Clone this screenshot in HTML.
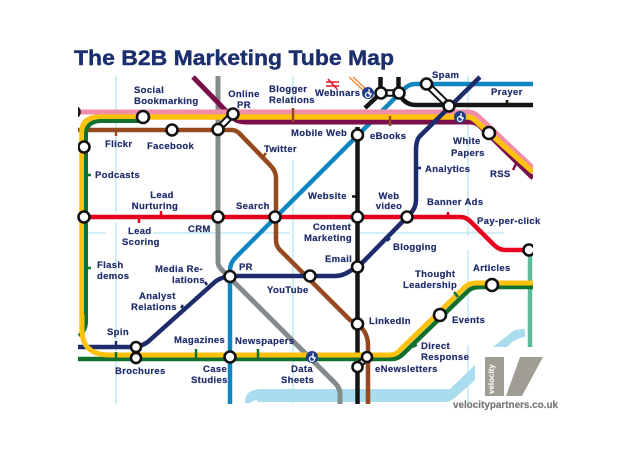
<!DOCTYPE html>
<html><head><meta charset="utf-8"><style>
html,body{margin:0;padding:0;background:#fff}
svg{display:block}
text{font-family:"Liberation Sans",sans-serif;font-weight:bold;fill:#1f2c6b;stroke:#1f2c6b;stroke-width:.18px;font-size:9.5px;letter-spacing:.35px}
.c{text-anchor:middle}
.l{fill:none;stroke-linejoin:round}
.s{fill:#fff;stroke:#111;stroke-width:2.6}
</style></head><body>
<svg width="640" height="452" viewBox="0 0 640 452" xmlns="http://www.w3.org/2000/svg">
<rect width="640" height="452" fill="#fff"/>
<!-- river and grid -->
<path d="M245 403V402Q245 389 262 389H450L475 365V380L457 396Q451 402 445 402H258Q258 398 250 403Z" fill="#a9dcec"/>
<path d="M493 347L513 331Q517 329 525 329V337Q517 338 511 343L507 347Z" fill="#a9dcec"/>
<g stroke="#a6dfee" stroke-width="1" fill="none">
<path d="M116 76V212M116 222V404M293 76V100M293 160V404M468 76V236M468 250V320M468 345V404"/>
<path d="M85 233H106M153 233H290M355 233H504"/>
</g>
<!-- orange -->
<path d="M349 77L365 92M353 77L368 91" class="l" stroke="#ee8a3c" stroke-width="1.4"/>
<!-- rail symbol -->
<path d="M326 82H339M326 86H339M328 79L337 89" class="l" stroke="#e21a2a" stroke-width="1.6"/>
<!-- lines -->
<path d="M218 76V262Q218 266 222 270L335 383Q340 388 340 394V404" class="l" stroke="#838b8d" stroke-width="5"/>
<path d="M530 250V347" class="l" stroke="#5dbb9b" stroke-width="4.5"/>
<path d="M533 84H415Q409 84 404 89L236 257Q230 263 230 270V404" class="l" stroke="#0f86bf" stroke-width="4.5"/>
<path d="M78 130H232Q236 130 240 134L270 165Q276 171 276 178V240Q276 246 280 250L350 320Q368 328 368 345V404" class="l" stroke="#96491f" stroke-width="4.5"/>
<path d="M357.5 127V404" class="l" stroke="#151515" stroke-width="4.5"/>
<path d="M380.500 77V93M398.500 77V93M381 93L365 108M399 93Q404 105 416 105H533" class="l" stroke="#151515" stroke-width="4.5"/>
<path d="M193 77L232 117Q237 122 245 122H470Q476 122 480 126L533 178" class="l" stroke="#7a0f4b" stroke-width="5"/>
<path d="M78 112H468Q474 112 479 117L533 168" class="l" stroke="#f28da8" stroke-width="5"/>
<path d="M82 335V132Q82 117 100 117H468Q472 117 476 121L533 172" class="l" stroke="#fdc20f" stroke-width="5.500"/>
<path d="M86 322Q86 330 79 336M86 322V134Q86 122 100 121L143 121" class="l" stroke="#12702f" stroke-width="4"/>
<path d="M480 77L420 136Q416 140 416 150V200Q416 208 410 214L365 260Q358 267 350 271Q343 276 335 276H232Q224 276 216 281L150 340Q143 347 130 347H78" class="l" stroke="#1f2c6b" stroke-width="4.500"/>
<path d="M78 217H460Q466 217 470 221L494 245Q499 250 506 250H530" class="l" stroke="#e8001f" stroke-width="4.500"/>
<path d="M78 359H392Q398 359 403 354L468 291Q472 287 480 287H533" class="l" stroke="#12702f" stroke-width="4.500"/>
<path d="M82 315V330Q82 355 110 355H390Q396 355 400 350L465 287Q469 283 477 283H533" class="l" stroke="#fdc20f" stroke-width="5"/>
<!-- ticks -->
<g stroke-width="2.500" fill="none">
<path d="M116 130V136" stroke="#96491f"/>
<path d="M139 217V223M161 217V211" stroke="#e8001f"/>
<path d="M448 217V212M481 229L478 232" stroke="#e8001f"/>
<path d="M87 175H91M87 268H91" stroke="#12702f"/>
<path d="M196 349V360M258 349V360M116 352V360" stroke="#12702f"/>
<path d="M116 341V349" stroke="#1f2c6b"/>
<path d="M416 168H421" stroke="#1f2c6b"/>
<path d="M352 196.500H357" stroke="#151515"/>
<path d="M390 238L387 241M205 282L207 285M183 305L181 308" stroke="#1f2c6b"/>
<path d="M293 108V122M390 116V126" stroke="#96491f"/>
<path d="M266 153L263 157" stroke="#96491f"/>
<path d="M507 105V100" stroke="#151515"/>
<path d="M513 170L516 164" stroke="#7a0f4b"/>
<path d="M454 292L458 297M412 347L417 345" stroke="#12702f"/>
</g>
<!-- connectors -->
<path d="M218 129L233 114M381 93H399M426.500 84L449 106M136 347V358M367 357L357 367" stroke="#111" stroke-width="7.500" fill="none"/>
<path d="M218 129L233 114M381 93H399M426.500 84L449 106M136 347V358M367 357L357 367" stroke="#fff" stroke-width="3.500" fill="none"/>
<!-- stations -->
<g class="s">
<circle cx="74" cy="112" r="5.500"/>
<circle cx="143" cy="117" r="6"/><circle cx="233" cy="114" r="5.500"/><circle cx="218" cy="129.500" r="5.500"/><circle cx="172" cy="130" r="5.500"/>
<circle cx="84" cy="147" r="5.500"/><circle cx="84" cy="217" r="5.500"/><circle cx="218" cy="217" r="5.500"/><circle cx="275" cy="217" r="5.500"/>
<circle cx="357.500" cy="135" r="5.500"/><circle cx="357.500" cy="217" r="5.500"/><circle cx="407" cy="217" r="5.500"/>
<circle cx="381" cy="93" r="5.500"/><circle cx="399" cy="93" r="5.500"/><circle cx="426.500" cy="84" r="5.500"/><circle cx="449" cy="106" r="5.500"/>
<circle cx="489" cy="133" r="6"/><circle cx="230" cy="276.500" r="5.500"/><circle cx="310" cy="276" r="5.500"/><circle cx="357.500" cy="267" r="5.500"/>
<circle cx="357.500" cy="324" r="5.500"/><circle cx="136" cy="347" r="5"/><circle cx="136" cy="358" r="5"/><circle cx="230" cy="357" r="5.500"/>
<circle cx="367" cy="357" r="5"/><circle cx="357.500" cy="367" r="5"/><circle cx="440" cy="315" r="6"/><circle cx="492" cy="285" r="6"/><circle cx="529" cy="250" r="5.500"/>
</g>
<rect x="60" y="100" width="18" height="60" fill="#fff"/>
<!-- wheelchair -->
<g fill="#1f3f8a"><circle cx="368" cy="93" r="6"/><circle cx="460" cy="117" r="6"/><circle cx="312" cy="357" r="6"/></g>
<g fill="none" stroke="#fff" stroke-width="1.200"><circle cx="368" cy="95" r="2.500"/><circle cx="460" cy="119" r="2.500"/><circle cx="312" cy="359" r="2.500"/><path d="M369 89V94H372M461 113V118H464M313 353V358H316"/></g>
<!-- white masks at edges -->
<rect x="533" y="70" width="10" height="225" fill="#fff"/>
<!-- logo -->
<rect x="485" y="357" width="19" height="39" fill="#a09e94"/>
<path d="M520 357H543L522 396H506Z" fill="#a09e94"/>
<text transform="translate(494 394) rotate(-90)" style="fill:#fff;stroke:none;font-size:8px;letter-spacing:0">velocity</text>
<text x="453" y="408" textLength="105" lengthAdjust="spacingAndGlyphs" style="fill:#77787a;stroke:#77787a;font-size:10px;letter-spacing:0">velocitypartners.co.uk</text>
<!-- title -->
<text x="74" y="65" textLength="320" lengthAdjust="spacingAndGlyphs" style="font-size:21px;fill:#1b2f6e;stroke:#1b2f6e;stroke-width:.4px;letter-spacing:0">The B2B Marketing Tube Map</text>
<!-- labels -->
<text x="134" y="93">Social</text><text x="134" y="104">Bookmarking</text>
<text x="244" y="97" class="c">Online</text><text x="244" y="108" class="c">PR</text>
<text x="269" y="92">Blogger</text><text x="269" y="103">Relations</text>
<text x="315" y="96">Webinars</text>
<text x="432" y="78">Spam</text><text x="491" y="95">Prayer</text>
<text x="291" y="136">Mobile Web</text><text x="370" y="139">eBooks</text>
<text x="105" y="147">Flickr</text><text x="147" y="149">Facebook</text>
<text x="264" y="152">Twitter</text>
<text x="453" y="144">White</text><text x="451" y="156">Papers</text>
<text x="425" y="172">Analytics</text><text x="490" y="177">RSS</text>
<text x="95" y="178">Podcasts</text>
<text x="162" y="198" class="c">Lead</text><text x="155" y="209" class="c">Nurturing</text>
<text x="236" y="209">Search</text><text x="308" y="199">Website</text>
<text x="389" y="199" class="c">Web</text><text x="389" y="209" class="c">video</text>
<text x="427" y="205">Banner Ads</text><text x="477" y="224">Pay-per-click</text>
<text x="128" y="234">Lead</text><text x="122" y="245">Scoring</text>
<text x="188" y="232">CRM</text>
<text x="332" y="230" class="c">Content</text><text x="328" y="241" class="c">Marketing</text>
<text x="393" y="250">Blogging</text><text x="325" y="262">Email</text>
<text x="97" y="268">Flash</text><text x="97" y="279">demos</text>
<text x="155" y="272">Media Re-</text><text x="172" y="283">lations</text>
<text x="239" y="270">PR</text><text x="267" y="293">YouTube</text>
<text x="473" y="271">Articles</text>
<text x="415" y="277">Thought</text><text x="403" y="288">Leadership</text>
<text x="139" y="299">Analyst</text><text x="131" y="310">Relations</text>
<text x="452" y="323">Events</text><text x="369" y="324">LinkedIn</text>
<text x="107" y="335">Spin</text>
<text x="174" y="343">Magazines</text><text x="235" y="344">Newspapers</text>
<text x="421" y="349">Direct</text><text x="421" y="360">Response</text>
<text x="115" y="374">Brochures</text>
<text x="203" y="372">Case</text><text x="191" y="383">Studies</text>
<text x="291" y="372">Data</text><text x="281" y="383">Sheets</text>
<text x="375" y="372">eNewsletters</text>
</svg>
</body></html>
